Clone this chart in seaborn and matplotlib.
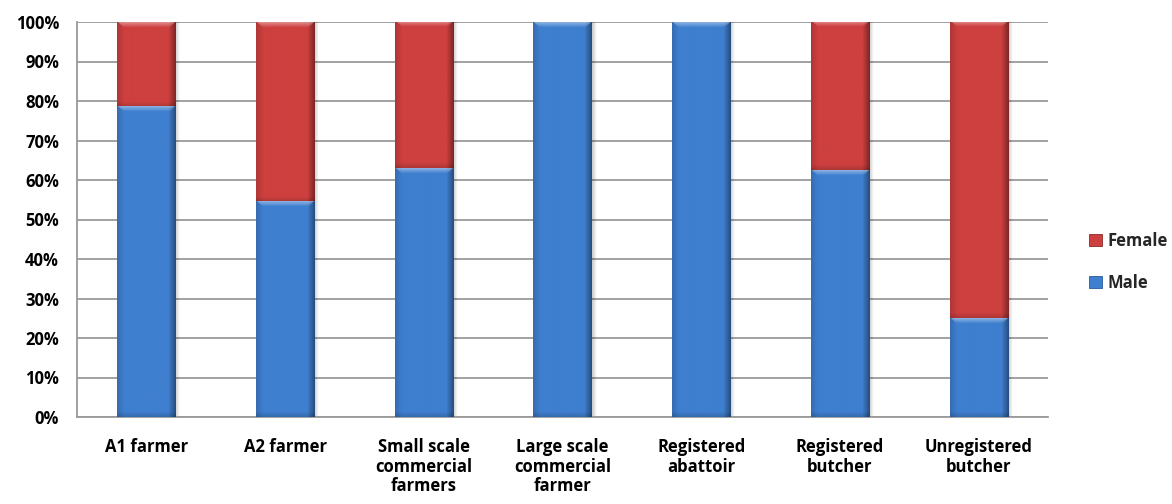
import numpy as np
import pandas as pd
import matplotlib
matplotlib.use("Agg")
import matplotlib.pyplot as plt
import matplotlib.colors as mcolors
from matplotlib.patches import Rectangle
import seaborn as sns

# Share of respondents by gender in each value-chain group (percent)
categories = ["A1 farmer", "A2 farmer", "Small scale\ncommercial\nfarmers",
              "Large scale\ncommercial\nfarmer", "Registered\nabattoir",
              "Registered\nbutcher", "Unregistered\nbutcher"]
male = [78.5, 54.5, 63.0, 100.0, 100.0, 62.5, 25.0]
female = [21.5, 45.5, 37.0, 0.0, 0.0, 37.5, 75.0]
y_ticks = list(range(0, 101, 10))

BLUE = "#3f7fcf"
RED = "#cd403f"
GRID = "#9a9a9a"

sns.set_theme(style="white")
plt.rcParams["font.family"] = ["Open Sans", "DejaVu Sans"]
plt.rcParams["font.weight"] = "bold"

df = pd.DataFrame({"group": categories, "male": male, "female": female})
df["total"] = df["male"] + df["female"]

fig = plt.figure(figsize=(11.72, 5.04), dpi=100)
ax = fig.add_axes([77 / 1172, (504 - 417) / 504, (1048 - 77) / 1172, (417 - 22) / 504])

# stacked bars: full-height female layer first, male layer drawn over it
sns.barplot(data=df, x="group", y="total", color=RED, width=0.42,
            saturation=1, ax=ax, zorder=3, linewidth=0)
n_female = len(ax.patches)
sns.barplot(data=df, x="group", y="male", color=BLUE, width=0.42,
            saturation=1, ax=ax, zorder=4, linewidth=0)

ax.set_xlim(-0.5, len(categories) - 0.5)
ax.set_ylim(0, 100)
fig.canvas.draw()


def to_px(x0, y0, w, h):
    p0 = ax.transData.transform((x0, y0))
    p1 = ax.transData.transform((x0 + w, y0 + h))
    return max(int(round(p1[0] - p0[0])), 2), max(int(round(p1[1] - p0[1])), 2)


def bevel(x0, y0, w, h, base, z):
    """Paint an Excel-style bevel shading over a bar segment."""
    if h <= 0:
        return
    wp, hp = to_px(x0, y0, w, h)
    rgb = np.array(mcolors.to_rgb(base))
    xs = np.arange(wp)[None, :].astype(float)
    ys = np.arange(hp)[:, None].astype(float)  # 0 = top row
    edge = 7.0
    dl = np.clip(xs / edge, 0, 1)
    dr = np.clip((wp - 1 - xs) / edge, 0, 1)
    dt = np.clip(ys / 5.0, 0, 1)
    db = np.clip((hp - 1 - ys) / 5.0, 0, 1)
    fac = np.ones((hp, wp))
    fac = fac * (0.86 + 0.14 * dl)
    fac = fac * (0.62 + 0.38 * dr)
    fac = fac * (0.85 + 0.15 * db)
    # bright chamfer along the top edge
    light = (1 - dt) * np.clip(np.minimum(xs - ys, (wp - 1 - xs) - ys) / 2.0, 0, 1) * 0.38
    img = rgb[None, None, :] * fac[..., None]
    img = img + (1 - img) * light[..., None]
    img = np.clip(img, 0, 1)
    ax.imshow(img, extent=(x0, x0 + w, y0, y0 + h), aspect="auto",
              origin="upper", zorder=z, interpolation="bilinear")


def shadow(x0, w, h):
    """Soft grey drop shadow to the right of a full bar."""
    px_w = ax.transData.inverted().transform((5, 0))[0] - ax.transData.inverted().transform((0, 0))[0]
    grad = np.linspace(0.22, 0.0, 16)[None, :]
    rgba = np.zeros((1, 16, 4))
    rgba[..., 3] = grad
    ax.imshow(rgba, extent=(x0 + w, x0 + w + px_w, 0, h), aspect="auto",
              zorder=2.5, interpolation="bilinear")


patches = list(ax.patches)
for i, p in enumerate(patches):
    x0, w = p.get_x(), p.get_width()
    if i < n_female:
        m = male[i]
        shadow(x0, w, p.get_height())
        bevel(x0, m, w, p.get_height() - m, RED, 3.5)
    else:
        bevel(x0, p.get_y(), w, p.get_height(), BLUE, 4.5)

ax.set_xlim(-0.5, len(categories) - 0.5)
ax.set_ylim(0, 100)
ax.set_yticks(y_ticks)
ax.set_yticklabels([f"{t}%" for t in y_ticks], fontsize=12, fontweight="bold")
ax.set_xticks(range(len(categories)))
ax.set_xticklabels(categories, fontsize=12, fontweight="bold", linespacing=1.12)
ax.set_xticks(np.arange(-0.5, len(categories), 1.0), minor=True)
ax.tick_params(axis="x", which="major", length=0, pad=15, colors="black")
ax.tick_params(axis="x", which="minor", length=5, width=1.2, color=GRID, direction="out")
ax.tick_params(axis="y", length=5, width=1.2, color=GRID, direction="out", pad=8,
               labelcolor="black")
ax.set_xlabel("")
ax.set_ylabel("")

ax.grid(axis="y", color=GRID, linewidth=1.3, zorder=0)
ax.set_axisbelow(True)
for side in ["top", "right"]:
    ax.spines[side].set_visible(False)
for side in ["left", "bottom"]:
    ax.spines[side].set_color(GRID)
    ax.spines[side].set_linewidth(1.3)

handles = [Rectangle((0, 0), 1, 1, facecolor=RED, edgecolor="#8c2a2a", linewidth=0.6),
           Rectangle((0, 0), 1, 1, facecolor=BLUE, edgecolor="#2a5a95", linewidth=0.6)]
fig.legend(handles, ["Female", "Male"], loc="center left",
           bbox_to_anchor=(1089 / 1172, 1 - 262 / 504), frameon=False,
           prop={"size": 12, "weight": "bold"}, handlelength=0.75, handleheight=0.75,
           handletextpad=0.35, labelspacing=1.45, borderaxespad=0, borderpad=0)

fig.savefig("out.png", dpi=100)
